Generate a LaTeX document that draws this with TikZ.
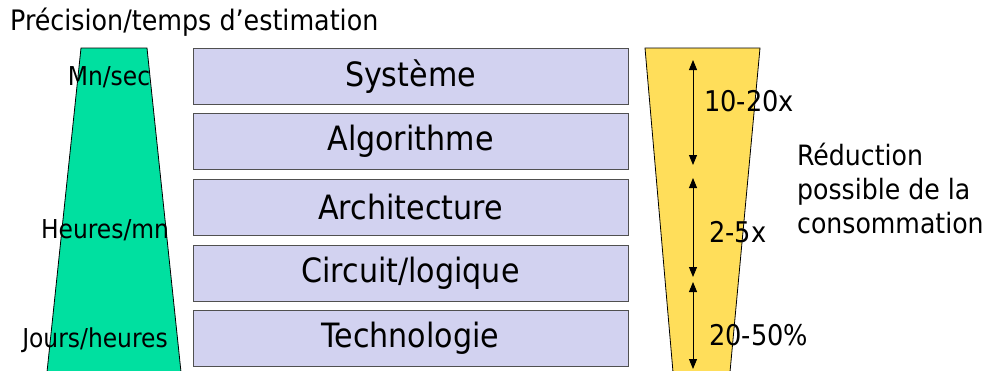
\documentclass[tikz,border=0pt]{standalone}
\usepackage{fontspec}
\setmainfont{DejaVu Sans Condensed}
\usetikzlibrary{arrows.meta}
\definecolor{greenfill}{RGB}{0,224,160}
\definecolor{yellowfill}{RGB}{255,222,90}
\definecolor{boxfill}{RGB}{210,210,240}
\definecolor{boxline}{RGB}{80,80,80}
\tikzset{
  layer/.style={draw=boxline, line width=1pt, fill=boxfill, minimum width=435pt, minimum height=56pt, inner sep=0pt, font=\fontsize{33.5}{40}\selectfont},
  side/.style={font=\fontsize{26}{30}\selectfont, inner sep=0pt},
  gain/.style={font=\fontsize{28.5}{32}\selectfont, inner sep=0pt, anchor=west},
  dim/.style={{Stealth[length=10pt,width=8pt,inset=0pt]}-{Stealth[length=10pt,width=8pt,inset=0pt]}, line width=0.9pt},
  trap/.style={draw=black, line width=0.8pt}
}
\begin{document}
\begin{tikzpicture}[x=1pt,y=-1pt]
\useasboundingbox (0,0) rectangle (990,370);
% title
\node[font=\fontsize{28.2}{32}\selectfont, anchor=west, inner sep=0pt] (title) at (10,22) {Précision/temps d’estimation};
% green trapezoid
\coordinate (g1) at (81,48);
\coordinate (g2) at (147,48);
\coordinate (g3) at (181,372);
\coordinate (g4) at (47,372);
\draw[trap, fill=greenfill] (g1) -- (g2) -- (g3) -- (g4) -- cycle;
\node[side] (mn) at (109,77) {Mn/sec};
\node[side] (hm) at (105,230) {Heures/mn};
\node[side] (jh) at (95,340) {Jours/heures};
% layers
\node[layer] (sys) at (410.5,76.5) {Système};
\node[layer] (alg) at (410.5,141.5) {Algorithme};
\node[layer] (arc) at (410.5,207.5) {Architecture};
\node[layer] (cir) at (410.5,273.5) {Circuit/logique};
\node[layer] (tec) at (410.5,338.5) {Technologie};
% yellow trapezoid
\coordinate (y1) at (645,48);
\coordinate (y2) at (760,48);
\coordinate (y3) at (730,372);
\coordinate (y4) at (673,372);
\draw[trap, fill=yellowfill] (y1) -- (y2) -- (y3) -- (y4) -- cycle;
% arrows
\coordinate (a1t) at (693,60);
\coordinate (a1b) at (693,165);
\coordinate (a2t) at (693,178);
\coordinate (a2b) at (693,277);
\coordinate (a3t) at (693,282);
\coordinate (a3b) at (693,369);
\draw[dim] (a1t) -- (a1b);
\draw[dim] (a2t) -- (a2b);
\draw[dim] (a3t) -- (a3b);
\node[gain] (g10) at (704,101) {10-20x};
\node[gain] (g2x) at (709,232) {2-5x};
\node[gain] (g20) at (709,335) {20-50\%};
\node[font=\fontsize{28}{34}\selectfont, align=left, anchor=north west, inner sep=0pt] (red) at (797,143) {Réduction\\possible de la\\consommation};
\end{tikzpicture}
\end{document}
